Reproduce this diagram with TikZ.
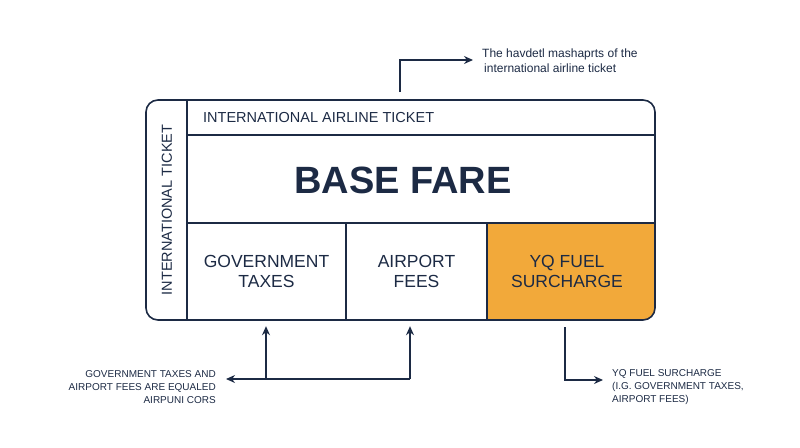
\documentclass[tikz,border=0pt]{standalone}
\usepackage{fontspec}
\setmainfont{Liberation Sans}
\usepackage{xcolor}
\usetikzlibrary{arrows.meta,positioning}
\definecolor{tkline}{HTML}{1C2A44}
\definecolor{tkfuel}{HTML}{F2A93A}
\tikzset{
  frame/.style={draw=tkline, line width=1.6pt},
  cell/.style={font=\fontsize{17.5}{20}\selectfont, text=tkline, align=center, inner sep=0pt},
  note/.style={font=\fontsize{10}{13}\selectfont, text=tkline, inner sep=0pt},
  link/.style={draw=tkline, line width=1.3pt, -{Stealth[length=9pt,width=8pt]}},
}

\begin{document}
\begin{tikzpicture}[x=1pt, y=-1pt,
  headlabel/.style={font=\fontsize{14.5}{17}\selectfont, text=tkline, inner sep=0pt}]
\useasboundingbox (0,0) rectangle (800,447);

% ---- ticket body ----
\begin{scope}
  \clip[rounded corners=12] (146,100) rectangle (655,320);
  \fill[tkfuel] (487,223) rectangle (655,320);
\end{scope}
\draw[frame, rounded corners=12] (146,100) rectangle (655,320);
\draw[frame] (187,100) -- (187,320);
\draw[frame] (187,135) -- (655,135);
\draw[frame] (187,223) -- (655,223);
\draw[frame] (346,223) -- (346,320);
\draw[frame] (487,223) -- (487,320);

\node[headlabel, rotate=90] (side) at (167,210) {INTERNATIONAL TICKET};
\node[headlabel, anchor=west] (head) at (203,118) {INTERNATIONAL AIRLINE TICKET};
\node[font=\fontsize{38}{40}\selectfont\bfseries, text=tkline] (base) at (403,180) {BASE FARE};
\node[cell, minimum width=159, minimum height=97] (gov) at (266.5,271.5) {GOVERNMENT\\TAXES};
\node[cell, minimum width=141, minimum height=97] (apt) at (416.5,271.5) {AIRPORT\\FEES};
\node[cell, minimum width=168, minimum height=97] (fuel) at (567,271.5) {YQ FUEL\\SURCHARGE};

% ---- notes ----
\node[note, font=\fontsize{12}{15}\selectfont, align=left, anchor=west] (topnote) at (482,61)
  {The havdetl mashaprts of the\\ \,international airline ticket};
\node[note, align=right, anchor=east] (leftnote) at (216,387)
  {GOVERNMENT TAXES AND\\AIRPORT FEES ARE EQUALED\\AIRPUNI CORS};
\node[note, align=left, anchor=west] (rightnote) at (612,387)
  {YQ FUEL SURCHARGE\\(I.G. GOVERNMENT TAXES,\\AIRPORT FEES)};

\coordinate (topfoot) at (400,92);
\coordinate (toptip) at (473,60);
\coordinate (govfoot) at (266,379);
\coordinate (aptfoot) at (410,379);
\coordinate (lefttip) at (226,379);
\coordinate (fuelfoot) at (565,327);
\coordinate (righttip) at (603,380);

\draw[link] (topfoot) |- (toptip);
\draw[link] (aptfoot) -- (lefttip);
\draw[link, shorten >=6pt] (govfoot) -- (govfoot |- gov.south);
\draw[link, shorten >=6pt] (aptfoot) -- (aptfoot |- apt.south);
\draw[link] (fuelfoot) |- (righttip);

\end{tikzpicture}
\end{document}
